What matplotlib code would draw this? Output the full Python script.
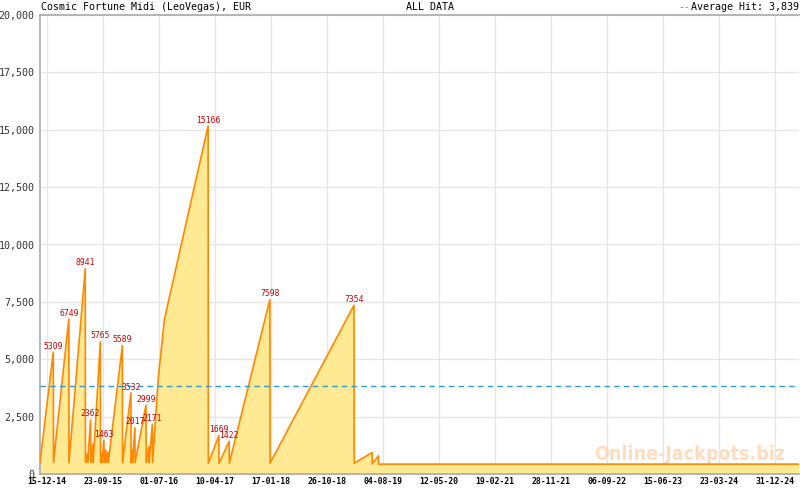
import matplotlib
matplotlib.use('Agg')
import matplotlib.pyplot as plt
import matplotlib.dates as mdates
from matplotlib.ticker import FuncFormatter
from datetime import datetime, timedelta

# Jackpot level over time (resets are the vertical drops)
dates = ['2014-11-11', '2015-01-17', '2015-01-18', '2015-04-05', '2015-04-06',
         '2015-06-27', '2015-06-28', '2015-07-08', '2015-07-09', '2015-07-24',
         '2015-07-25', '2015-08-05', '2015-08-06', '2015-09-11', '2015-09-12',
         '2015-09-18', '2015-09-19', '2015-09-29', '2015-09-30', '2015-10-09',
         '2015-10-10', '2015-10-20', '2015-10-21', '2015-12-31', '2016-01-01',
         '2016-02-12', '2016-02-13', '2016-02-19', '2016-02-20', '2016-03-03',
         '2016-03-04', '2016-04-28', '2016-04-29', '2016-05-13', '2016-05-14',
         '2016-05-30', '2016-05-31', '2016-06-30', '2016-07-30', '2017-03-07',
         '2017-03-08', '2017-04-30', '2017-05-01', '2017-06-21', '2017-06-22',
         '2018-01-12', '2018-01-13', '2019-03-12', '2019-03-13', '2019-06-11',
         '2019-06-12', '2019-07-13', '2019-07-14', '2025-05-01']
values = [500, 5309, 500, 6749, 500,
          8941, 500, 900, 500, 2362,
          500, 1300, 500, 5765, 500,
          900, 500, 1463, 500, 1050,
          500, 950, 500, 5589, 500,
          3532, 500, 1000, 500, 2017,
          500, 2999, 500, 1200, 500,
          2171, 500, 4270, 6750, 15166,
          470, 1669, 470, 1422, 470,
          7598, 470, 7354, 470, 934,
          440, 790, 430, 430]

# labelled hits
hit_dates = ['2015-01-17', '2015-04-05', '2015-06-27', '2015-07-24', '2015-09-11',
             '2015-09-29', '2015-12-31', '2016-02-12', '2016-03-03', '2016-04-28',
             '2016-05-30', '2017-03-07', '2017-04-30', '2017-06-21', '2018-01-12',
             '2019-03-12']
hit_values = [5309, 6749, 8941, 2362, 5765, 1463, 5589, 3532, 2017, 2999,
              2171, 15166, 1669, 1422, 7598, 7354]

average_hit = 3839
tick_labels = ['15-12-14', '23-09-15', '01-07-16', '10-04-17', '17-01-18', '26-10-18',
               '04-08-19', '12-05-20', '19-02-21', '28-11-21', '06-09-22', '15-06-23',
               '23-03-24', '31-12-24']

x = [datetime.strptime(d, '%Y-%m-%d') for d in dates]
hx = [datetime.strptime(d, '%Y-%m-%d') for d in hit_dates]
major = [datetime.strptime(t, '%d-%m-%y') for t in tick_labels]

mono = 'DejaVu Sans Mono'
fig = plt.figure(figsize=(8, 4.9), dpi=100)
ax = fig.add_axes([40 / 800, 16 / 490, 759 / 800, 459 / 490])

ax.fill_between(x, values, 0, color='#ffe993', linewidth=0, zorder=1)
ax.plot(x, values, color='#ff8800', linewidth=1.2, zorder=3)
ax.axhline(average_hit, color='#3399cc', linestyle=(0, (4, 3)), linewidth=1, zorder=4)

for d, v in zip(hx, hit_values):
    ax.text(d, v + 60, str(v), color='#cc0000', fontsize=5.8, family=mono,
            ha='center', va='bottom', zorder=5)

ax.text(0.982, 0.022, 'Online-Jackpots.biz', transform=ax.transAxes, ha='right',
        va='bottom', fontsize=14, fontweight='bold', fontstretch='condensed',
        color='#ffd6b0', alpha=0.85, family='DejaVu Sans', zorder=2)

ax.set_xlim(datetime(2014, 11, 11), datetime(2025, 5, 1))
ax.set_ylim(0, 20000)
ax.set_yticks(range(0, 20001, 2500))
ax.yaxis.set_major_formatter(FuncFormatter(lambda v, p: f'{int(v):,}'))
ax.set_xticks(major)
ax.set_xticklabels(tick_labels)
minor = []
d = major[0]
while d < datetime(2025, 5, 1):
    minor.append(d)
    d += timedelta(days=47)
ax.set_xticks(minor, minor=True)

ax.grid(True, which='major', color='#e6e6e6', linewidth=1, zorder=0)
ax.set_axisbelow(True)
for s in ['left', 'bottom', 'top']:
    ax.spines[s].set_color('#aaaaaa')
    ax.spines[s].set_linewidth(1.2)
ax.spines['right'].set_visible(False)
ax.tick_params(axis='x', which='major', direction='in', length=6, color='#aaaaaa',
               labelsize=5.9, pad=2)
ax.tick_params(axis='x', which='minor', direction='in', length=4, color='#aaaaaa')
ax.tick_params(axis='y', length=0, labelsize=7.2, pad=4)
for lab in ax.get_xticklabels():
    lab.set_family(mono)
    lab.set_fontweight('bold')
for lab in ax.get_yticklabels():
    lab.set_family(mono)
    lab.set_color('#333333')

fig.text(41 / 800, 1 - 7 / 490, 'Cosmic Fortune Midi (LeoVegas), EUR', family=mono,
         fontsize=7.2, va='center', ha='left')
fig.text(430 / 800, 1 - 7 / 490, 'ALL DATA', family=mono, fontsize=7.2,
         va='center', ha='center')
fig.text(799 / 800, 1 - 7 / 490, 'Average Hit: 3,839', family=mono, fontsize=7.2,
         va='center', ha='right')
fig.text(690 / 800, 1 - 7 / 490, '--', family=mono, fontsize=7.2, va='center',
         ha='right', color='#3399cc')

fig.savefig('out.png', dpi=100)
